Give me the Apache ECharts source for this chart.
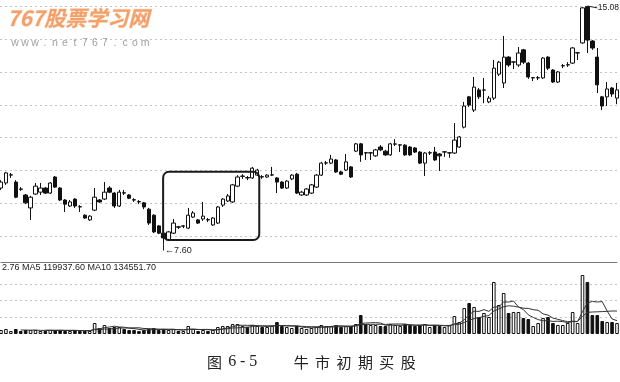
<!DOCTYPE html>
<html><head><meta charset="utf-8">
<script src="https://cdn.jsdelivr.net/npm/echarts@6/dist/echarts.min.js"></script>
<style>html,body{margin:0;padding:0;background:#fff}#c{width:620px;height:382px}</style>
</head><body><div id="c"></div>
<script>
const opens=[9.31,9.47,9.72,9.50,9.28,9.09,8.68,9.12,9.18,9.31,9.15,9.66,9.31,8.93,8.74,8.96,8.72,8.45,8.30,8.61,
8.93,8.96,9.31,9.15,8.74,9.16,9.09,8.94,8.88,8.84,8.64,8.45,8.11,7.88,7.66,7.88,8.08,8.10,8.04,8.39,
8.30,8.33,8.31,8.14,8.20,8.77,8.90,8.87,9.37,9.68,9.64,9.63,9.72,9.67,9.66,9.72,9.63,9.50,9.31,9.60,
9.75,9.09,9.09,9.15,9.34,9.72,10.10,10.10,10.20,9.82,9.88,9.98,10.48,10.71,10.43,10.42,10.33,10.61,10.48,10.36,
10.70,10.67,10.67,10.61,10.58,10.45,10.10,10.42,10.45,10.39,10.45,10.42,10.42,10.61,11.24,12.20,11.78,12.42,12.41,12.04,
12.16,12.92,12.64,13.46,13.30,13.21,13.69,13.27,12.80,12.80,12.80,13.46,13.05,12.67,13.18,13.21,13.27,13.59,13.91,15.06,
13.97,13.46,12.20,12.20,12.48,12.16];
const closes=[9.50,9.79,9.73,9.02,9.27,8.84,9.02,9.37,9.31,9.15,9.47,9.34,8.93,8.80,8.87,8.74,8.71,8.36,8.42,9.02,
8.87,9.18,9.18,8.74,9.18,9.15,8.99,8.93,8.87,8.71,8.20,7.92,7.88,7.73,7.92,8.20,8.07,8.11,8.45,8.52,
8.20,8.42,8.30,8.36,8.71,8.96,9.06,9.41,9.66,9.69,9.63,9.94,9.88,9.66,9.72,9.73,9.50,9.31,9.53,9.72,
9.15,9.18,9.28,9.41,9.72,10.10,10.11,10.23,9.82,9.75,10.14,9.66,10.71,10.36,10.42,10.43,10.52,10.52,10.36,10.71,
10.71,10.68,10.36,10.36,10.45,10.10,10.42,10.43,10.20,10.33,10.46,10.43,10.83,10.93,11.91,11.94,12.51,12.20,12.42,12.16,
13.11,13.30,13.46,13.21,13.31,13.59,13.30,12.83,12.81,12.81,13.43,13.11,12.67,12.99,13.19,13.22,13.75,13.60,15.02,14.00,
13.75,12.58,11.91,12.45,12.29,12.42];
const lows=[9.25,9.41,9.63,8.99,9.22,8.80,8.30,9.09,9.09,9.12,9.12,9.31,8.90,8.55,8.71,8.68,8.55,8.33,8.27,8.58,
8.84,8.93,9.15,8.68,8.71,9.09,8.96,8.87,8.80,8.64,8.14,7.88,7.85,7.60,7.63,7.85,8.01,8.04,8.01,8.36,
8.17,8.27,8.23,8.11,8.17,8.71,8.87,8.84,9.34,9.60,9.56,9.60,9.69,9.60,9.63,9.69,9.15,9.28,9.28,9.56,
9.12,9.06,9.06,9.12,9.31,9.69,10.04,10.07,9.79,9.72,9.85,9.63,10.45,10.14,10.20,10.20,10.30,10.48,10.33,10.33,
10.64,10.45,10.33,10.33,10.42,10.07,9.69,10.36,10.17,9.85,10.30,10.27,10.39,10.58,11.20,11.88,11.72,12.13,12.00,12.00,
12.10,12.86,12.48,13.15,13.08,13.15,13.24,12.77,12.70,12.73,12.77,13.05,12.64,12.64,13.11,13.15,13.24,13.37,13.88,13.59,
13.69,12.32,11.78,11.91,12.20,11.97];
const highs=[9.56,9.82,9.79,9.56,9.34,9.12,9.06,9.47,9.47,9.34,9.50,9.69,9.34,8.96,8.93,8.99,8.77,8.48,8.45,9.31,
8.96,9.50,9.37,9.18,9.25,9.25,9.12,8.99,8.93,8.87,8.68,8.48,8.14,7.92,7.95,8.33,8.11,8.14,8.68,8.58,
8.33,8.87,8.36,8.39,8.74,8.99,9.12,9.44,9.72,9.75,9.69,9.98,9.92,9.72,9.75,9.98,9.66,9.53,9.56,9.75,
9.79,9.22,9.31,9.44,9.75,10.14,10.17,10.36,10.23,9.85,10.39,10.01,10.74,10.74,10.45,10.45,10.55,10.67,10.52,10.74,
10.86,10.70,10.70,10.64,10.61,10.48,10.45,10.48,10.61,10.42,10.48,10.45,11.37,10.96,12.04,12.23,12.83,12.48,12.80,12.23,
13.37,13.34,14.13,13.49,13.33,13.78,13.72,13.30,12.83,12.86,13.46,13.49,13.08,13.02,13.24,13.30,13.78,13.62,15.05,15.08,
14.00,13.75,12.23,12.67,12.51,12.64];
const volumes=[40000,50000,30000,50000,30000,40000,40000,40000,30000,30000,40000,40000,40000,30000,30000,40000,30000,30000,
30000,110000,60000,90000,60000,70000,70000,50000,40000,40000,30000,40000,50000,60000,40000,50000,40000,50000,30000,30000,80000,50000,
30000,40000,30000,40000,70000,80000,80000,100000,100000,80000,70000,90000,80000,70000,70000,80000,120000,80000,70000,60000,
80000,60000,50000,60000,70000,90000,80000,80000,90000,70000,80000,80000,100000,190000,100000,90000,90000,80000,80000,100000,
90000,80000,100000,90000,80000,90000,100000,70000,90000,80000,70000,90000,
180000,120000,260000,310000,270000,170000,210000,170000,520000,290000,410000,210000,220000,220000,160000,150000,80000,110000,
160000,170000,110000,90000,90000,110000,220000,110000,590000,520000,190000,190000,130000,120000,120000,110000];
const days=opens.map((_,i)=>String(i+1));
const volLabel='2.76 MA5 119937.60 MA10 134551.70';
const lowLabel='←7.60', highLabel='15.08';
const siteName='767股票学习网', siteUrl='www.net767.com';
const capFig='图', capNo='6-5', capTitle='牛市初期买股';

function ma(n){return volumes.map((v,i)=>{if(i<n-1)return '-';let s=0;for(let k=i-n+1;k<=i;k++)s+=volumes[k];return +(s/n).toFixed(1);});}

const chart=echarts.init(document.getElementById('c'),null,{renderer:'canvas'});
const kData=days.map((d,i)=>[opens[i],closes[i],lows[i],highs[i]]);
const vData=volumes.map((v,i)=>({value:v,itemStyle:closes[i]>=opens[i]?{color:'#fff',borderColor:'#111',borderWidth:1}:{color:'#111',borderColor:'#111',borderWidth:1}}));
const dash={color:'#c4c4c4',type:[2,3],width:1};
chart.setOption({
  animation:false,backgroundColor:'#fff',
  grid:[
    {left:1,right:3,top:0,height:262},
    {left:1,right:3,top:262,height:72},
    {left:0,right:0,top:6.7,height:229.3},
    {left:0,right:0,top:284,height:33.4}
  ],
  xAxis:[
    {type:'category',data:days,gridIndex:0,boundaryGap:false,axisLine:{show:true,onZero:false,lineStyle:{color:'#777',width:1}},axisTick:{show:false},axisLabel:{show:false},splitLine:{show:false}},
    {type:'category',data:days,gridIndex:1,boundaryGap:false,show:false},
    {type:'value',gridIndex:2,min:0,max:1,show:false},
    {type:'value',gridIndex:3,min:0,max:1,show:false}
  ],
  yAxis:[
    {type:'value',gridIndex:0,min:6.966,max:15.27,show:false},
    {type:'value',gridIndex:1,min:0,max:720000,show:false},
    {type:'value',gridIndex:2,min:0,max:7,interval:1,axisLine:{show:false},axisTick:{show:false},axisLabel:{show:false},splitLine:{show:true,lineStyle:dash}},
    {type:'value',gridIndex:3,min:0,max:2,interval:1,axisLine:{show:false},axisTick:{show:false},axisLabel:{show:false},splitLine:{show:true,lineStyle:dash}}
  ],
  series:[
    {type:'candlestick',xAxisIndex:0,yAxisIndex:0,data:kData,barWidth:3.8,z:3,
     itemStyle:{color:'#fff',color0:'#111',borderColor:'#111',borderColor0:'#111',borderWidth:1},
     markLine:{silent:true,symbol:['none','none'],label:{show:false},lineStyle:{color:'#222',width:1,type:'solid'},
       data:[[{coord:['34',7.60]},{coord:['34',7.33]}],[{coord:['120',15.08]},{coord:['122',15.02]}]]},
     markPoint:{silent:true,symbol:'circle',symbolSize:1,itemStyle:{color:'rgba(0,0,0,0)'},
       label:{show:true,position:'right',distance:1,fontSize:9,color:'#222',fontFamily:'Liberation Sans'},
       data:[{coord:['34',7.33],label:{formatter:lowLabel}},{coord:['122',15.02],label:{formatter:highLabel,distance:0,fontSize:8.5}}]}
    },
    {type:'bar',xAxisIndex:1,yAxisIndex:1,data:vData,barWidth:3.6,z:3},
    {type:'line',xAxisIndex:1,yAxisIndex:1,data:ma(5),symbol:'none',z:4,lineStyle:{color:'#333',width:1}},
    {type:'line',xAxisIndex:1,yAxisIndex:1,data:ma(10),symbol:'none',z:4,lineStyle:{color:'#333',width:1}}
  ]
});
const p1=chart.convertToPixel({xAxisIndex:0,yAxisIndex:0},['34',9.83]);
const p2=chart.convertToPixel({xAxisIndex:0,yAxisIndex:0},['53',7.66]);
function spaced(str,tok){return str.split('').map(c=>'{'+tok+'|'+c+'}').join('');}
chart.setOption({graphic:[
  {type:'rect',id:'box',z:10,shape:{x:p1[0]-0.5,y:p1[1],width:p2[0]+2-(p1[0]-0.5),height:p2[1]-p1[1],r:6},style:{fill:'none',stroke:'#1a1a1a',lineWidth:2}},
  {type:'text',id:'wm',z:1,style:{text:siteName,x:7,y:8,fill:'#f3a06b',stroke:'#fde1cc',lineWidth:1,fontSize:21,fontWeight:'bold',fontStyle:'italic',fontFamily:'Noto Sans CJK SC',verticalAlign:'top'}},
  {type:'text',id:'url',z:1,style:{text:spaced(siteUrl,'c'),x:10,y:43.5,verticalAlign:'middle',rich:{c:{width:10,align:'center',fontSize:10.5,fill:'#a0a0a0',fontFamily:'Liberation Sans'}}}},
  {type:'text',id:'vl',z:5,style:{text:volLabel,x:2,y:268,verticalAlign:'middle',fontSize:9,fill:'#222',fontFamily:'Liberation Sans'}},
  {type:'text',id:'cap1',z:5,style:{text:capFig,x:207,y:362,verticalAlign:'middle',fontSize:15,fill:'#222',fontFamily:'Noto Sans CJK SC'}},
  {type:'text',id:'cap2',z:5,style:{text:spaced(capNo,'d'),x:227,y:362,verticalAlign:'middle',rich:{d:{width:10.5,align:'center',fontSize:16,fill:'#222',fontFamily:'Liberation Serif'}}}},
  {type:'text',id:'cap3',z:5,style:{text:spaced(capTitle,'e'),x:290.5,y:362,verticalAlign:'middle',rich:{e:{width:21.4,align:'center',fontSize:15,fill:'#222',fontFamily:'Noto Sans CJK SC'}}}}
]});
</script></body></html>
